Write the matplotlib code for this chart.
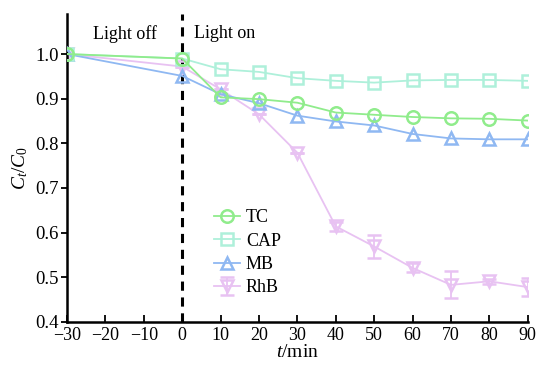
import numpy as np
import matplotlib
matplotlib.use("Agg")
import matplotlib.pyplot as plt

plt.rcParams['font.family'] = ['Liberation Serif', 'DejaVu Serif']
plt.rcParams['mathtext.fontset'] = 'custom'
plt.rcParams['mathtext.rm'] = 'Liberation Serif'
plt.rcParams['mathtext.it'] = 'Liberation Serif:italic'

t = [-30, 0, 10, 20, 30, 40, 50, 60, 70, 80, 90]
tc = [1.0, 0.99, 0.903, 0.899, 0.891, 0.869, 0.864, 0.859, 0.856, 0.855, 0.851]
cap = [1.0, 0.99, 0.966, 0.960, 0.946, 0.940, 0.936, 0.941, 0.942, 0.942, 0.940]
mb = [1.0, 0.951, 0.91, 0.89, 0.862, 0.849, 0.840, 0.821, 0.811, 0.809, 0.809]
rhb = [1.0, 0.972, 0.921, 0.865, 0.779, 0.614, 0.569, 0.521, 0.483, 0.491, 0.478]
rhb_err = [0, 0, 0, 0, 0, 0.01, 0.025, 0.01, 0.03, 0.005, 0.02]

fig = plt.figure(figsize=(5.38, 3.65), dpi=100)
ax = fig.add_axes([0.1245, 0.118, 0.8565, 0.844])

ms, mew = 9, 1.8
h_rhb = ax.errorbar(t, rhb, yerr=rhb_err, color='#e8c2f2', marker='v', mfc='none', ms=ms, mew=mew,
                    lw=1.3, capsize=5, elinewidth=1.3, capthick=1.3, zorder=2)
h_mb, = ax.plot(t, mb, color='#8fb8f2', marker='^', mfc='none', ms=ms, mew=mew, lw=1.3, zorder=3)
h_cap, = ax.plot(t, cap, color='#aef0da', marker='s', mfc='none', ms=ms, mew=mew, lw=1.3, zorder=3)
h_tc, = ax.plot(t, tc, color='#90ec8c', marker='o', mfc='none', ms=ms, mew=mew, lw=1.3, zorder=4)

ax.axvline(0, color='black', ls=(0, (3, 2.2)), lw=2.2, zorder=1)

ax.set_xlim(-30, 90)
ax.set_ylim(0.4, 1.09)
ax.set_xticks(np.arange(-30, 91, 10))
ax.set_yticks(np.arange(0.4, 1.01, 0.1))
ax.set_yticklabels(['%.1f' % v for v in np.arange(0.4, 1.01, 0.1)])
ax.set_xticklabels([str(v).replace('-', '\u2212') for v in range(-30, 91, 10)])
ax.tick_params(axis='x', direction='in', length=5, width=1.3, labelsize=13, pad=4)
ax.tick_params(axis='y', direction='out', length=4, width=1.3, labelsize=13.5, pad=2)
for s in ['top', 'right']:
    ax.spines[s].set_visible(False)
for s in ['left', 'bottom']:
    ax.spines[s].set_linewidth(1.8)

ax.text(-15, 1.045, 'Light off', ha='center', va='center', fontsize=13)
ax.text(11, 1.045, 'Light on', ha='center', va='center', fontsize=13)

ax.set_ylabel(r'$C_t/C_0$', fontsize=14, labelpad=4)
ax.set_xlabel(r'$t$/min', fontsize=14, labelpad=0)

ax.legend([h_tc, h_cap, h_mb, h_rhb], ['TC', 'CAP', 'MB', 'RhB'], loc='upper left',
          bbox_to_anchor=(0.3, 0.395), frameon=False, fontsize=13,
          handlelength=1.4, handletextpad=0.35, labelspacing=0.35, borderpad=0)

fig.savefig('out.png', dpi=100)
